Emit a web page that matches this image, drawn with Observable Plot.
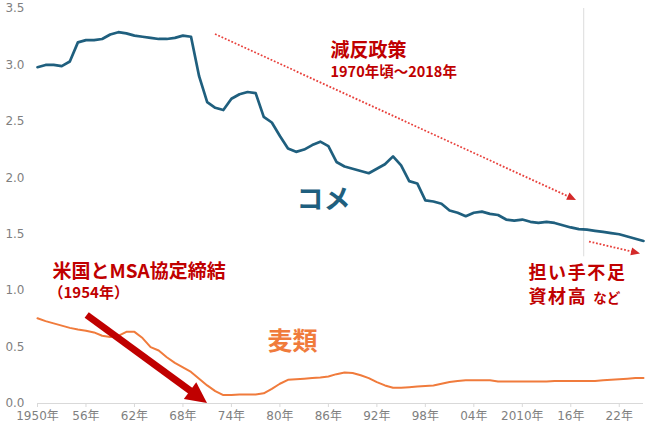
<!DOCTYPE html>
<html><head><meta charset="utf-8">
<script src="https://cdn.jsdelivr.net/npm/d3@7"></script>
<script src="https://cdn.jsdelivr.net/npm/@observablehq/plot@0.6"></script>
<style>body{margin:0;background:#fff}</style>
</head><body><div id="chart"></div>
<script>
const years = [1950,1951,1952,1953,1954,1955,1956,1957,1958,1959,1960,1961,1962,1963,1964,1965,1966,1967,1968,1969,
1970,1971,1972,1973,1974,1975,1976,1977,1978,1979,1980,1981,1982,1983,1984,1985,1986,1987,1988,1989,
1990,1991,1992,1993,1994,1995,1996,1997,1998,1999,2000,2001,2002,2003,2004,2005,2006,2007,2008,2009,
2010,2011,2012,2013,2014,2015,2016,2017,2018,2019,2020,2021,2022,2023,2024,2025];

const rice = [2.98,3.00,3.00,2.99,3.03,3.20,3.22,3.22,3.23,3.27,3.29,3.28,3.26,3.25,3.24,3.23,3.23,3.24,3.26,3.25,
2.90,2.67,2.62,2.60,2.70,2.74,2.76,2.75,2.54,2.49,2.37,2.26,2.23,2.25,2.29,2.32,2.28,2.14,2.10,2.08,
2.06,2.04,2.08,2.12,2.19,2.11,1.97,1.95,1.80,1.79,1.77,1.71,1.69,1.66,1.69,1.70,1.68,1.67,1.63,1.62,
1.63,1.61,1.60,1.61,1.60,1.58,1.56,1.545,1.54,1.53,1.52,1.51,1.50,1.48,1.46,1.44];

const wheat = [0.755,0.73,0.71,0.69,0.67,0.655,0.645,0.63,0.60,0.59,0.60,0.635,0.635,0.58,0.50,0.47,0.41,0.36,0.32,0.28,
0.22,0.16,0.11,0.075,0.075,0.08,0.08,0.08,0.09,0.13,0.175,0.21,0.215,0.22,0.225,0.23,0.24,0.26,0.275,0.27,
0.25,0.225,0.19,0.16,0.14,0.14,0.145,0.15,0.155,0.16,0.175,0.19,0.20,0.205,0.205,0.205,0.205,0.195,0.195,0.195,
0.195,0.195,0.195,0.195,0.20,0.20,0.20,0.20,0.20,0.20,0.205,0.21,0.215,0.22,0.225,0.225];

const tickYears = [1950,1956,1962,1968,1974,1980,1986,1992,1998,2004,2010,2016,2022];
const tickLabels = ["1950年","56年","62年","68年","74年","80年","86年","92年","98年","04年","2010年","16年","22年"];
const yTicks = [0,0.5,1.0,1.5,2.0,2.5,3.0,3.5];

const blue = "#1f5f7e", orange = "#f07b3c", darkRed = "#c00000";

const riceData = years.map((y,i)=>({year:y, value:rice[i]}));
const wheatData = years.map((y,i)=>({year:y, value:wheat[i]}));

// annotations: text, year, value, font size, colour, anchor
const notes = [
  {text:"減反政策", year:1986.26, value:3.137, size:19, color:darkRed, anchor:"start"},
  {text:"1970年頃～2018年", year:1986.26, value:2.942, size:14.5, color:darkRed, anchor:"start"},
  {text:"コメ", year:1985.4, value:1.816, size:27, color:blue, anchor:"middle"},
  {text:"麦類", year:1981.56, value:0.558, size:25, color:orange, anchor:"middle"},
  {text:"米国とMSA協定締結", year:1951.86, value:1.178, size:19, color:darkRed, anchor:"start"},
  {text:"（1954年）", year:1951.36, value:0.983, size:15, color:darkRed, anchor:"start"},
  {text:"担い手不足\n資材高", year:2010.77, value:1.068, size:18, color:darkRed, anchor:"start", lh:1.361, id:"ninaite"}
];
const smallNote = "など";

// arrows: from (year,value) to (year,value)
const arrows = [
  {x1:1972.03, y1:3.27, x2:2016.71, y2:1.799, kind:"dotted"},
  {x1:2018.32, y1:1.431, x2:2024.63, y2:1.325, kind:"dotted"},
  {x1:1956.15, y1:0.78, x2:1971.04, y2:0.0, kind:"bold"}
];

const cjk = "'Noto Sans CJK JP','Noto Sans',sans-serif";
const tickFont = "'DejaVu Sans','Noto Sans CJK JP',sans-serif";

const chart = Plot.plot({
  width: 650, height: 429,
  marginLeft: 37, marginRight: 7, marginTop: 8, marginBottom: 26,
  style: {fontFamily: tickFont, fontSize: "12px", background: "#fff", overflow: "visible"},
  x: {domain: [1950, 2025]},
  y: {domain: [0, 3.5]},
  marks: [
    Plot.ruleX([2017.6], {y1: 1.3, y2: 3.5, stroke: "#dcdcdc", strokeWidth: 1}),
    Plot.ruleY([0], {stroke: "#d9d9d9", strokeWidth: 1.2}),
    Plot.axisX({ticks: tickYears, tickFormat: d => tickLabels[tickYears.indexOf(d)], tickSize: 4, tickPadding: 4, stroke: "#d9d9d9", fill: "#7f7f7f", fontFamily: tickFont, fontSize: 12, label: null}),
    Plot.axisY({ticks: yTicks, tickFormat: d => d.toFixed(1), tickSize: 0, tickPadding: 13, fill: "#7f7f7f", fontFamily: tickFont, fontSize: 12, label: null}),
    Plot.line(wheatData, {x: "year", y: "value", stroke: orange, strokeWidth: 2}),
    Plot.line(riceData, {x: "year", y: "value", stroke: blue, strokeWidth: 2.7}),
    ...notes.map(n => Plot.text([n], {x: "year", y: "value", text: "text", fill: n.color, fontSize: n.size, fontWeight: "bold", fontFamily: cjk, textAnchor: n.anchor, lineAnchor: "middle", lineHeight: n.lh || 1.2, className: n.id}))
  ]
});
document.getElementById("chart").appendChild(chart);

// widen the two-line note slightly and add the small "など" to its second line
const multi = d3.select(chart).select("g.ninaite text");
multi.attr("letter-spacing", 1.6);
multi.append("tspan").attr("dx", 6).attr("font-size", 13.5).attr("letter-spacing", 0).text(smallNote);

// draw arrows through the plot's scales
const sx = chart.scale("x"), sy = chart.scale("y");
const svg = d3.select(chart);
const g = svg.append("g");
for (const a of arrows) {
  const x1 = sx.apply(a.x1), y1 = sy.apply(a.y1), x2 = sx.apply(a.x2), y2 = sy.apply(a.y2);
  const dx = x2 - x1, dy = y2 - y1, len = Math.hypot(dx, dy);
  const ux = dx/len, uy = dy/len, px = -uy, py = ux;
  const bold = a.kind === "bold";
  const hl = bold ? 21 : 9, hw = bold ? 21 : 8;
  const bx = x2 - ux*hl, by = y2 - uy*hl;
  g.append("line").attr("x1", x1).attr("y1", y1).attr("x2", bx + ux*1).attr("y2", by + uy*1)
    .attr("stroke", bold ? darkRed : "#e8413c")
    .attr("stroke-width", bold ? 7 : 1.8)
    .attr("stroke-dasharray", bold ? null : "1.8,1.8");
  g.append("path").attr("d", `M${x2},${y2}L${bx+px*hw/2},${by+py*hw/2}L${bx-px*hw/2},${by-py*hw/2}Z`)
    .attr("fill", bold ? darkRed : "#d42a2a");
}
</script>
</body></html>
